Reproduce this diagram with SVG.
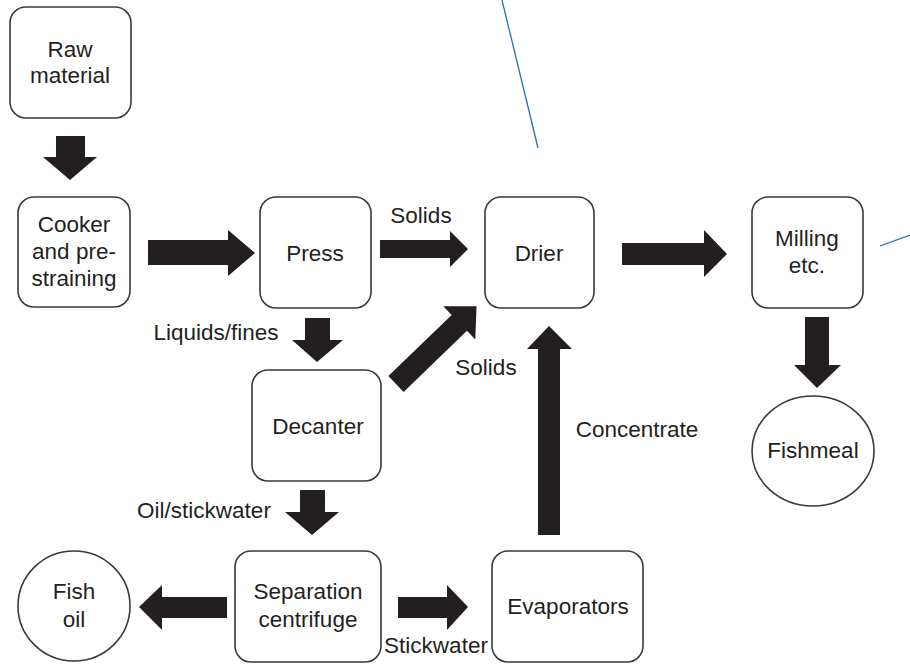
<svg xmlns="http://www.w3.org/2000/svg" width="910" height="672" viewBox="0 0 910 672">
<style>
.box{fill:#fff;stroke:#3a3a3a;stroke-width:1.6}
.t{font-family:"Liberation Sans",Arial,sans-serif;font-size:22.5px;fill:#231f20;text-anchor:middle}
.ar{fill:#231f20}
.blue{stroke:#2e6db4;stroke-width:1.3;fill:none}
</style>
<rect width="910" height="672" fill="#fff"/>
<g id="connectors">
  <!-- raw -> cooker -->
  <polygon class="ar" points="56,136 85,136 85,157 97,157 70,180 43,157 56,157"/>
  <!-- cooker -> press -->
  <polygon class="ar" points="148,240 228,240 228,230 255,253 228,276 228,265 148,265"/>
  <!-- press -> drier solids -->
  <polygon class="ar" points="380,240 450,240 450,231 468,249 450,267 450,258 380,258"/>
  <!-- drier -> milling -->
  <polygon class="ar" points="622,243 704,243 704,230 727,254 704,277 704,265 622,265"/>
  <!-- milling -> fishmeal -->
  <polygon class="ar" points="805,317 829,317 829,365 841,365 817,388 794,365 805,365"/>
  <!-- press -> decanter -->
  <polygon class="ar" points="305,318 330,318 330,340 343,340 317,362 292,340 305,340"/>
  <!-- decanter -> drier diagonal -->
  <g transform="translate(396,384) rotate(-44)">
    <polygon class="ar" points="0,-11 88,-11 88,-23 112,0 88,23 88,11 0,11"/>
  </g>
  <!-- evaporators -> drier concentrate -->
  <polygon class="ar" points="538,535 538,349 527,349 549,326 572,349 560,349 560,535"/>
  <!-- decanter -> separation -->
  <polygon class="ar" points="300,490 325,490 325,512 339,512 312,535 285,512 300,512"/>
  <!-- separation -> fish oil -->
  <polygon class="ar" points="227,597 162,597 162,585 139,607 162,630 162,618 227,618"/>
  <!-- separation -> evaporators -->
  <polygon class="ar" points="398,597 447,597 447,585 468,607 447,630 447,618 398,618"/>
  <!-- blue lines -->
  <line class="blue" x1="502" y1="0" x2="538" y2="148"/>
  <line class="blue" x1="880" y1="246" x2="910" y2="235"/>
</g>
<g id="labels">
  <text class="t" x="421" y="223">Solids</text>
  <text class="t" x="216" y="340">Liquids/fines</text>
  <text class="t" x="486" y="375">Solids</text>
  <text class="t" x="637" y="437">Concentrate</text>
  <text class="t" x="204" y="518">Oil/stickwater</text>
  <text class="t" x="436" y="653">Stickwater</text>
</g>
<g id="raw">
  <rect class="box" x="10" y="7" width="121" height="111" rx="16"/>
  <text class="t" x="70" y="57">Raw</text>
  <text class="t" x="70" y="83">material</text>
</g>
<g id="cooker">
  <rect class="box" x="18" y="197" width="112" height="110" rx="16"/>
  <text class="t" x="74" y="232">Cooker</text>
  <text class="t" x="74" y="259">and pre-</text>
  <text class="t" x="74" y="286">straining</text>
</g>
<g id="press">
  <rect class="box" x="260" y="197" width="111" height="111" rx="16"/>
  <text class="t" x="315" y="261">Press</text>
</g>
<g id="drier">
  <rect class="box" x="485" y="197" width="109" height="111" rx="16"/>
  <text class="t" x="539" y="261">Drier</text>
</g>
<g id="milling">
  <rect class="box" x="752" y="197" width="111" height="111" rx="16"/>
  <text class="t" x="807" y="246">Milling</text>
  <text class="t" x="807" y="273">etc.</text>
</g>
<g id="fishmeal">
  <ellipse class="box" cx="813" cy="451" rx="61" ry="55"/>
  <text class="t" x="813" y="458">Fishmeal</text>
</g>
<g id="decanter">
  <rect class="box" x="252" y="370" width="129" height="111" rx="16"/>
  <text class="t" x="318" y="434">Decanter</text>
</g>
<g id="separation">
  <rect class="box" x="235" y="551" width="146" height="111" rx="16"/>
  <text class="t" x="308" y="599">Separation</text>
  <text class="t" x="308" y="627">centrifuge</text>
</g>
<g id="fishoil">
  <ellipse class="box" cx="74" cy="606" rx="56" ry="55"/>
  <text class="t" x="74" y="599">Fish</text>
  <text class="t" x="74" y="627">oil</text>
</g>
<g id="evaporators">
  <rect class="box" x="492" y="551" width="151" height="111" rx="16"/>
  <text class="t" x="568" y="614">Evaporators</text>
</g>
</svg>
